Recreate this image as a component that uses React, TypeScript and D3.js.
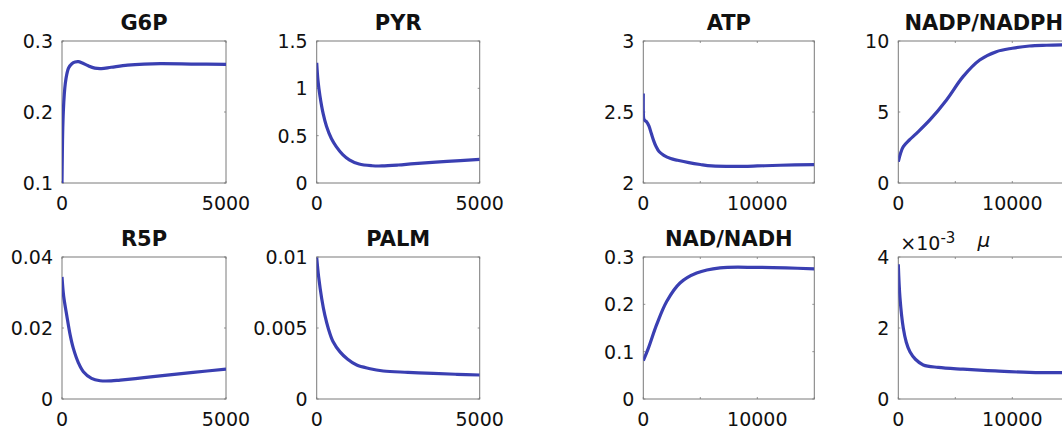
import React from "react";
import * as d3 from "d3";

// ---------- data (time, value) ----------
const T_G6P = [0, 10, 20, 40, 70, 100, 150, 200, 300, 400, 500, 600, 800, 1000, 1200, 1500, 2000, 2500, 3000, 4000, 5000];
const V_G6P = [0.1, 0.14, 0.17, 0.2, 0.225, 0.24, 0.254, 0.262, 0.268, 0.2705, 0.271, 0.2695, 0.265, 0.2618, 0.2612, 0.263, 0.266, 0.2675, 0.268, 0.2675, 0.267];

const T_PYR = [0, 40, 100, 200, 300, 450, 600, 800, 1000, 1300, 1700, 2000, 2500, 3000, 4000, 5000];
const V_PYR = [1.27, 1.08, 0.92, 0.73, 0.6, 0.47, 0.385, 0.3, 0.245, 0.2, 0.182, 0.18, 0.19, 0.205, 0.228, 0.25];

const T_ATP = [0, 15, 50, 150, 300, 500, 700, 900, 1100, 1400, 1800, 2400, 3000, 4000, 5000, 6000, 8000, 10000, 12000, 15000];
const V_ATP = [2.63, 2.47, 2.45, 2.44, 2.43, 2.4, 2.35, 2.3, 2.26, 2.22, 2.195, 2.172, 2.16, 2.143, 2.13, 2.12, 2.117, 2.12, 2.125, 2.13];

const T_NADP = [0, 200, 440, 1000, 1600, 2770, 4230, 5680, 7140, 8600, 10000, 11500, 13000, 15000];
const V_NADP = [1.5, 2.1, 2.56, 3.05, 3.5, 4.44, 5.85, 7.49, 8.66, 9.25, 9.49, 9.65, 9.7, 9.73];

const T_R5P = [0, 50, 144, 250, 346, 500, 652, 900, 1163, 1500, 1776, 2500, 3205, 4000, 5000];
const V_R5P = [0.0344, 0.029, 0.0236, 0.018, 0.01425, 0.0102, 0.00768, 0.0058, 0.00515, 0.0051, 0.00534, 0.006, 0.00675, 0.0075, 0.00843];

const T_PALM = [0, 60, 153, 250, 356, 500, 715, 950, 1227, 1600, 2043, 2800, 3577, 4300, 5000];
const V_PALM = [0.00996, 0.0086, 0.00708, 0.0059, 0.00497, 0.00405, 0.00332, 0.0028, 0.00239, 0.00215, 0.00197, 0.00188, 0.0018, 0.00174, 0.00169];

const T_NAD = [0, 440, 1170, 2050, 3220, 4680, 6730, 10000, 12500, 15000];
const V_NAD = [0.081, 0.107, 0.157, 0.206, 0.245, 0.266, 0.277, 0.278, 0.277, 0.275];

const T_MU = [0, 150, 440, 700, 1020, 1500, 2190, 3500, 5680, 8500, 11500, 15000];
const V_MU = [0.003794, 0.00284, 0.00199, 0.0016, 0.00133, 0.00112, 0.00096, 0.00089, 0.00084, 0.00079, 0.00075, 0.00074];

// ---------- panel definitions ----------
const TITLES = ["G6P", "PYR", "ATP", "NADP/NADPH", "R5P", "PALM", "NAD/NADH", "\u03bc"];
const XS = [T_G6P, T_PYR, T_ATP, T_NADP, T_R5P, T_PALM, T_NAD, T_MU];
const YS = [V_G6P, V_PYR, V_ATP, V_NADP, V_R5P, V_PALM, V_NAD, V_MU];
const XDOM: [number, number][] = [[0, 5000], [0, 5000], [0, 15000], [0, 15000], [0, 5000], [0, 5000], [0, 15000], [0, 15000]];
const YDOM: [number, number][] = [[0.1, 0.3], [0, 1.5], [2, 3], [0, 10], [0, 0.04], [0, 0.01], [0, 0.3], [0, 0.004]];
const XTICKS = [[0, 5000], [0, 5000], [0, 5000, 10000, 15000], [0, 5000, 10000, 15000], [0, 5000], [0, 5000], [0, 5000, 10000, 15000], [0, 5000, 10000, 15000]];
const XLABELED = [[0, 5000], [0, 5000], [0, 10000], [0, 10000], [0, 5000], [0, 5000], [0, 10000], [0, 10000]];
const YTICKS = [[0.1, 0.2, 0.3], [0, 0.5, 1, 1.5], [2, 2.5, 3], [0, 5, 10], [0, 0.02, 0.04], [0, 0.005, 0.01], [0, 0.1, 0.2, 0.3], [0, 0.002, 0.004]];
const YLABELS = [["0.1", "0.2", "0.3"], ["0", "0.5", "1", "1.5"], ["2", "2.5", "3"], ["0", "5", "10"], ["0", "0.02", "0.04"], ["0", "0.005", "0.01"], ["0", "0.1", "0.2", "0.3"], ["0", "2", "4"]];

// layout
const COL_LEFT = [62, 316.7, 643.3, 898.3];
const COL_WIDTH = [164, 163, 171, 171];
const ROW_TOP = [41, 257];
const ROW_BOTTOM = [183, 399];

const LINE_COLOR = "#3a3fb2";
const BOX_COLOR = "#7a7a7a";
const FONT = "DejaVu Sans, sans-serif";

function Panel({ i }: { i: number }) {
  const col = i % 4;
  const row = Math.floor(i / 4);
  const x0 = COL_LEFT[col];
  const x1 = x0 + COL_WIDTH[col];
  const y0 = ROW_TOP[row];
  const y1 = ROW_BOTTOM[row];
  const x = d3.scaleLinear().domain(XDOM[i]).range([x0, x1]);
  const y = d3.scaleLinear().domain(YDOM[i]).range([y1, y0]);
  const pts: [number, number][] = XS[i].map((t, k) => [t, YS[i][k]]);
  const line = d3
    .line<[number, number]>()
    .x((d) => x(d[0]))
    .y((d) => y(d[1]))
    .curve(d3.curveCatmullRom.alpha(0.5));
  const clipId = `clip${i}`;
  const cx = (x0 + x1) / 2;
  const isMu = i === 7;
  return (
    <g>
      <defs>
        <clipPath id={clipId}>
          <rect x={x0} y={y0 - 2} width={x1 - x0} height={y1 - y0 + 4} />
        </clipPath>
      </defs>
      <rect x={x0} y={y0} width={x1 - x0} height={y1 - y0} fill="white" stroke={BOX_COLOR} strokeWidth={1} />
      {XTICKS[i].map((t) => (
        <g key={"xt" + t}>
          <line x1={x(t)} x2={x(t)} y1={y1} y2={y1 - 2} stroke={BOX_COLOR} strokeWidth={0.8} />
          <line x1={x(t)} x2={x(t)} y1={y0} y2={y0 + 2} stroke={BOX_COLOR} strokeWidth={0.8} />
        </g>
      ))}
      {YTICKS[i].map((t) => (
        <g key={"yt" + t}>
          <line x1={x0} x2={x0 + 2} y1={y(t)} y2={y(t)} stroke={BOX_COLOR} strokeWidth={0.8} />
          <line x1={x1} x2={x1 - 2} y1={y(t)} y2={y(t)} stroke={BOX_COLOR} strokeWidth={0.8} />
        </g>
      ))}
      <path d={line(pts) || ""} fill="none" stroke={LINE_COLOR} strokeWidth={3.2} clipPath={`url(#${clipId})`} strokeLinejoin="round" />
      {XLABELED[i].map((t) => (
        <text key={"xl" + t} x={x(t)} y={y1 + 27} textAnchor="middle" fontFamily={FONT} fontSize={19} fill="#111">
          {String(t)}
        </text>
      ))}
      {YTICKS[i].map((t, k) => (
        <text key={"yl" + t} x={x0 - 9} y={y(t)} dy="0.36em" textAnchor="end" fontFamily={FONT} fontSize={19} fill="#111">
          {YLABELS[i][k]}
        </text>
      ))}
      {isMu ? (
        <>
          <text x={x0 + 2} y={y0 - 7} fontFamily={FONT} fontSize={19} fill="#111">
            {"\u00d710"}
            <tspan dy={-7} fontSize={15}>
              -3
            </tspan>
          </text>
          <text x={cx} y={y0 - 10} textAnchor="middle" fontFamily={FONT} fontSize={20} fontStyle="italic" fill="#111">
            {TITLES[i]}
          </text>
        </>
      ) : (
        <text x={cx} y={y0 - 11} textAnchor="middle" fontFamily={FONT} fontSize={21} fontWeight="bold" fill="#111">
          {TITLES[i]}
        </text>
      )}
    </g>
  );
}

export default function App() {
  return (
    <svg
      width={1062}
      height={429}
      style={{ position: "absolute", left: 0, top: 0, background: "white" }}
    >
      <rect x={0} y={0} width={1062} height={429} fill="white" />
      {TITLES.map((_, i) => (
        <Panel key={i} i={i} />
      ))}
    </svg>
  );
}
